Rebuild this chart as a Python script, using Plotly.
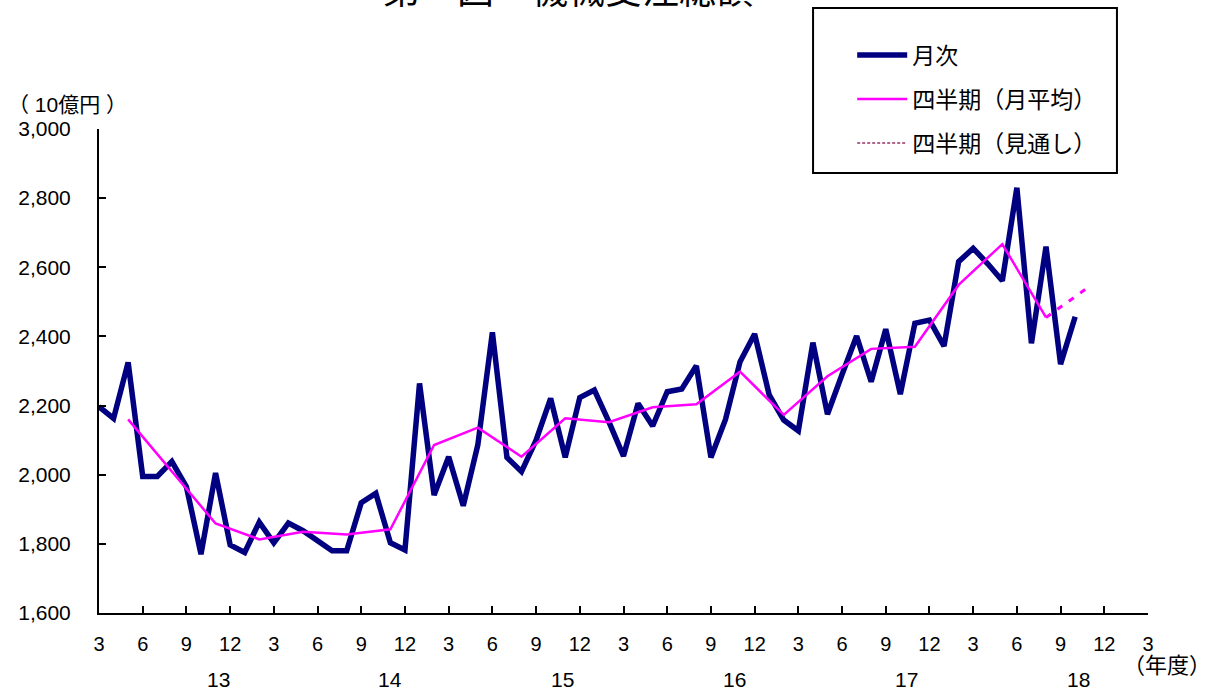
import plotly.graph_objects as go

# Machinery orders, total (10 billion yen), monthly from 2013-03
start_year, start_month = 2013, 3
monthly = [
    2197, 2163, 2325, 1995, 1995, 2038, 1965, 1770, 2005, 1797, 1775, 1863,
    1803, 1860, 1838, 1811, 1780, 1780, 1919, 1946, 1803, 1782, 2264, 1941,
    2052, 1910, 2086, 2412, 2050, 2009, 2100, 2221, 2050, 2223, 2245, 2153,
    2054, 2206, 2141, 2240, 2248, 2315, 2050, 2160, 2327, 2407, 2231, 2158,
    2127, 2382, 2175, 2290, 2401, 2269, 2421, 2233, 2438, 2447, 2372, 2616,
    2655, 2610, 2561, 2830, 2380, 2660, 2320, 2457,
]
# Quarterly monthly average, plotted at the middle month of each quarter (from May 2013)
quarterly = [
    2160, 2010, 1859, 1813, 1835, 1827, 1842, 2086, 2136, 2052, 2163,
    2152, 2195, 2204, 2298, 2173, 2285, 2364, 2370, 2549, 2667, 2455,
]
# Outlook: last actual quarter -> next quarter's projection
outlook = [2455, 2545]

y_ticks = [1600, 1800, 2000, 2200, 2400, 2600, 2800, 3000]
month_tick_labels = ["3", "6", "9", "12"]
fiscal_years = ["13", "14", "15", "16", "17", "18"]

FONT = "Liberation Sans, Arial, Noto Sans CJK JP"
NAVY = "#000080"
MAGENTA = "#FF00FF"

x_month = list(range(len(monthly)))                 # 0 = March 2013
x_quarter = [2 + 3 * i for i in range(len(quarterly))]
x_outlook = [x_quarter[-1], x_quarter[-1] + 3]

fig = go.Figure()
fig.add_trace(go.Scatter(
    x=x_month, y=monthly, mode="lines", name="月次",
    line=dict(color=NAVY, width=5.5), legendgroup="a",
))
fig.add_trace(go.Scatter(
    x=x_quarter, y=quarterly, mode="lines", name="四半期（月平均）",
    line=dict(color=MAGENTA, width=2.5), legendgroup="b",
))
fig.add_trace(go.Scatter(
    x=x_outlook, y=outlook, mode="lines", showlegend=False,
    line=dict(color=MAGENTA, width=3, dash="6px,8px"),
))
# legend key for the outlook line
fig.add_trace(go.Scatter(
    x=[None], y=[None], mode="lines", name="四半期（見通し）",
    line=dict(color="#993366", width=1.5, dash="3px,2px"), legendgroup="c",
))

tick_vals = list(range(0, 73, 3))
tick_text = [month_tick_labels[i % 4] for i in range(len(tick_vals))]

fig.update_xaxes(
    range=[0, 72], tickvals=tick_vals, ticktext=tick_text,
    ticks="inside", ticklen=7, tickwidth=2, tickcolor="black",
    showline=True, linecolor="black", linewidth=2, showgrid=False, zeroline=False,
    tickfont=dict(family=FONT, size=20, color="black"), ticklabelstandoff=12,
)
fig.update_yaxes(
    range=[1600, 3000], tickvals=y_ticks, ticktext=[f"{v:,}" for v in y_ticks],
    ticks="inside", ticklen=7, tickwidth=2, tickcolor="black",
    showline=True, linecolor="black", linewidth=2, showgrid=False, zeroline=False,
    tickfont=dict(family=FONT, size=21, color="black"), ticklabelstandoff=22,
)

annotations = [
    dict(text="第　図　機械受注総額", x=0.447, y=1.237, xref="paper", yref="paper",
         xanchor="center", yanchor="bottom", showarrow=False,
         font=dict(family=FONT, size=37, color="black")),
    dict(text="（ 10億円 ）", x=-0.089, y=1.05, xref="paper", yref="paper",
         xanchor="left", yanchor="middle", showarrow=False,
         font=dict(family=FONT, size=21, color="black")),
    dict(text="（年度）", x=1.018, y=-0.109, xref="paper", yref="paper",
         xanchor="center", yanchor="middle", showarrow=False,
         font=dict(family=FONT, size=22, color="black")),
]
for i, fy in enumerate(fiscal_years):
    annotations.append(dict(
        text=fy, x=8.2 + 11.8 * i, y=-0.138, xref="x", yref="paper",
        xanchor="center", yanchor="middle", showarrow=False,
        font=dict(family=FONT, size=21, color="black"),
    ))

fig.update_layout(
    width=1213, height=693,
    margin=dict(l=99, r=65, t=129, b=80),
    paper_bgcolor="white", plot_bgcolor="white",
    font=dict(family=FONT, color="black"),
    annotations=annotations,
    shapes=[dict(type="rect", xref="paper", yref="paper",
                 x0=0.6807, x1=0.9704, y0=0.909, y1=1.25,
                 line=dict(color="black", width=2), fillcolor="rgba(0,0,0,0)")],
    legend=dict(
        x=0.718, y=1.197, xanchor="left", yanchor="top",
        bgcolor="rgba(0,0,0,0)", borderwidth=0,
        font=dict(family=FONT, size=23, color="black"),
        traceorder="grouped", tracegroupgap=11, itemwidth=50,
    ),
)

fig.write_html("out.html")
